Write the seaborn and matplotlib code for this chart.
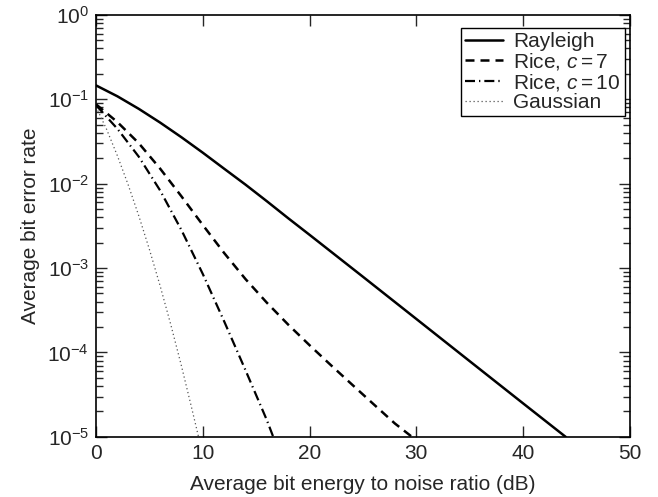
import matplotlib
matplotlib.use("Agg")
import matplotlib.pyplot as plt
import seaborn as sns
import numpy as np
import pandas as pd
from matplotlib.ticker import LogLocator, NullFormatter, FixedLocator

# ---- data ----
rayleigh_x = [0, 2, 4, 6, 8, 10, 12, 14, 16, 18, 20, 25, 30, 35, 40, 44]
rayleigh_y = [0.146, 0.1085, 0.0771, 0.053, 0.0355, 0.0233, 0.01505, 0.00975,
              0.0062, 0.0039, 0.00248, 7.9e-4, 2.5e-4, 7.9e-5, 2.5e-5, 1.0e-5]

rice7_x = [0, 2, 4, 6, 8, 10, 12, 14, 16, 18, 20, 22, 24, 26, 28, 29.6]
rice7_y = [0.0871, 0.0537, 0.0302, 0.0151, 0.00708, 0.00324, 0.00151, 7.41e-4,
           3.89e-4, 2.14e-4, 1.22e-4, 7.08e-5, 4.15e-5, 2.44e-5, 1.44e-5, 1.0e-5]

rice10_x = [0, 2, 4, 6, 8, 10, 12, 14, 16, 16.6]
rice10_y = [0.0851, 0.0447, 0.0209, 0.00832, 0.00282, 8.51e-4, 2.34e-4, 6.17e-5,
            1.58e-5, 1.0e-5]

gauss_x = [0, 1, 2, 3, 4, 5, 6, 7, 8, 9, 9.6]
gauss_y = [0.0813, 0.0437, 0.0214, 0.00977, 0.00417, 0.00166, 6.17e-4, 2.14e-4,
           6.92e-5, 2.09e-5, 1.0e-5]

labels = ["Rayleigh", "Rice, $c = 7$", "Rice, $c = 10$", "Gaussian"]
x_ticks = [0, 10, 20, 30, 40, 50]

sns.set_style("ticks")
plt.rcParams["font.family"] = ["Liberation Sans", "DejaVu Sans"]
plt.rcParams["mathtext.fontset"] = "custom"
plt.rcParams["mathtext.rm"] = "Liberation Sans"
plt.rcParams["mathtext.it"] = "Liberation Sans:italic"
plt.rcParams["mathtext.bf"] = "Liberation Sans:bold"

fig = plt.figure(figsize=(6.58, 4.97), dpi=100)
ax = fig.add_axes([0.146, 0.121, 0.811, 0.849])

series = [
    (rayleigh_x, rayleigh_y, dict(color="black", lw=1.8, linestyle="-")),
    (rice7_x, rice7_y, dict(color="black", lw=1.8, linestyle=(0, (3.6, 2.4)))),
    (rice10_x, rice10_y, dict(color="black", lw=1.6, linestyle=(0, (4.5, 1.8, 0.6, 1.8)))),
    (gauss_x, gauss_y, dict(color="#555555", lw=0.9, linestyle=(0, (1, 2.2)))),
]
for (xs, ys, style), lab in zip(series, labels):
    df = pd.DataFrame({"x": xs, "y": ys})
    sns.lineplot(data=df, x="x", y="y", ax=ax, label=lab, **style)

ax.set_yscale("log")
ax.set_xlim(0, 50)
ax.set_ylim(1e-5, 1)
ax.xaxis.set_major_locator(FixedLocator(x_ticks))
ax.yaxis.set_major_locator(LogLocator(base=10, numticks=10))
ax.yaxis.set_minor_locator(LogLocator(base=10, subs=np.arange(2, 10), numticks=20))
ax.yaxis.set_minor_formatter(NullFormatter())

ax.tick_params(which="both", direction="in", top=True, right=True, labelsize=15, width=1)
ax.tick_params(which="major", length=8, pad=5)
ax.tick_params(which="minor", length=5)
for s in ax.spines.values():
    s.set_linewidth(1.2)
    s.set_color("black")

ax.set_xlabel("Average bit energy to noise ratio (dB)", fontsize=15, labelpad=9)
ax.set_ylabel("Average bit error rate", fontsize=15, labelpad=5)

leg = ax.legend(loc="upper right", bbox_to_anchor=(0.9906, 0.969), fontsize=15,
                frameon=True, fancybox=False, edgecolor="black", framealpha=1,
                borderpad=0.2, labelspacing=0.0, handlelength=1.8,
                handletextpad=0.5, borderaxespad=0.0)
leg.get_frame().set_linewidth(1.0)

fig.savefig("out.png", dpi=100)
